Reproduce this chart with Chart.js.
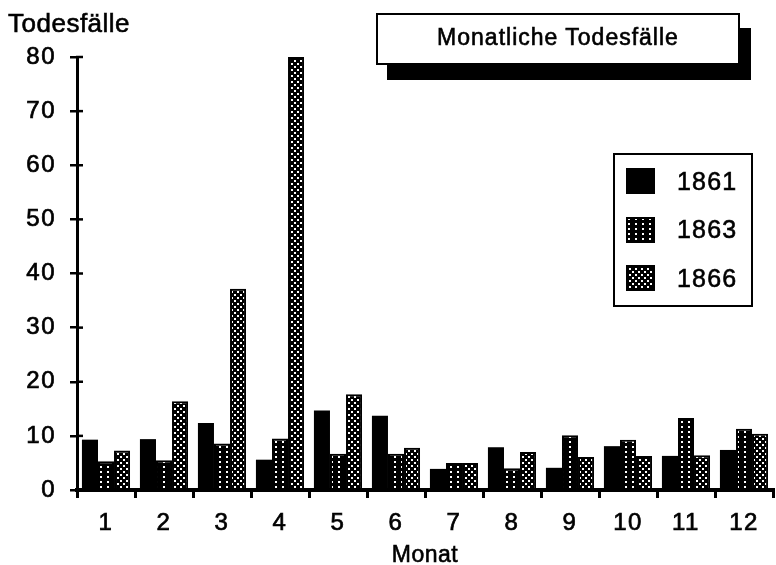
<!DOCTYPE html>
<html>
<head>
<meta charset="utf-8">
<script src="https://cdn.jsdelivr.net/npm/chart.js@4.4.1/dist/chart.umd.min.js"></script>
<style>
  body { margin: 0; background: #fff; font-family: 'Liberation Sans', Arial, sans-serif; color: #000; }
  #wrap { position: relative; width: 776px; height: 565px; }
  .thick { -webkit-text-stroke: 0.6px #000; }
  #yTitle { position: absolute; left: 8px; top: 10px; font-size: 26px; line-height: 1; letter-spacing: 0.5px; }
  #xTitle { position: absolute; left: 325px; width: 200px; top: 543px; text-align: center; font-size: 23px; line-height: 1; letter-spacing: 0.5px; }
  #titleBox {
    position: absolute; left: 376px; top: 13px; width: 360px; height: 44px;
    border: 2px solid #000; background: #fff; box-shadow: 11px 15px 0 #000;
    display: flex; align-items: center; justify-content: center;
    font-size: 23px; letter-spacing: 1px; padding-bottom: 4px; box-sizing: content-box;
  }
  #legend {
    position: absolute; left: 613px; top: 153px; width: 136px; height: 150px;
    border: 2px solid #000; background: #fff;
  }
  .row { position: absolute; left: 11px; height: 26px; display: flex; align-items: center; }
  .row canvas { width: 29px; height: 26px; display: block; }
  .row span { margin-left: 22px; font-size: 25px; letter-spacing: 1.2px; }
</style>
</head>
<body>
<div id="wrap">
  <canvas id="chart" width="776" height="565"></canvas>
  <div id="yTitle" class="thick">Todesfälle</div>
  <div id="xTitle" class="thick">Monat</div>
  <div id="titleBox" class="thick">Monatliche Todesfälle</div>
  <div id="legend" class="thick"></div>
</div>
<script>
// Monat 1..12
const months = ['1', '2', '3', '4', '5', '6', '7', '8', '9', '10', '11', '12'];
const years = ['1861', '1863', '1866'];

// Todesfälle je Monat
const deaths1861 = [9.3, 9.4, 12.4, 5.6, 14.7, 13.7, 3.9, 7.9, 4.1, 8.1, 6.3, 7.4];
const deaths1863 = [5.3, 5.5, 8.6, 9.5, 6.7, 6.7, 5.0, 4.0, 10.1, 9.3, 13.3, 11.3];
const deaths1866 = [7.3, 16.4, 37.2, 80, 17.7, 7.8, 5.0, 7.0, 6.1, 6.3, 6.4, 10.4];

const yTicks = [0, 10, 20, 30, 40, 50, 60, 70, 80];

const FONT = "'Liberation Sans', Arial, sans-serif";

// fill patterns: solid, dotted columns, dense checker
function makePattern(kind) {
  if (kind === 'solid') return '#000';
  const c = document.createElement('canvas');
  const w = kind === 'dots' ? 7 : 6;
  const h = kind === 'dots' ? 5 : 6;
  c.width = w; c.height = h;
  const g = c.getContext('2d');
  g.fillStyle = '#000';
  g.fillRect(0, 0, w, h);
  g.fillStyle = '#fff';
  if (kind === 'dots') {
    g.fillRect(2, 1, 2, 2);
  } else {
    g.fillRect(0, 0, 2, 2);
    g.fillRect(3, 3, 2, 2);
  }
  const ctx = document.getElementById('chart').getContext('2d');
  return ctx.createPattern(c, 'repeat');
}

const kinds = ['solid', 'dots', 'check'];
const fills = kinds.map(makePattern);

// legend built as html, swatches painted with the same patterns
const legendEl = document.getElementById('legend');
years.forEach((yr, i) => {
  const row = document.createElement('div');
  row.className = 'row';
  row.style.top = (13 + i * 48.5) + 'px';
  const sw = document.createElement('canvas');
  sw.width = 29; sw.height = 26;
  const sctx = sw.getContext('2d');
  sctx.fillStyle = fills[i];
  sctx.fillRect(0, 0, 29, 26);
  sctx.strokeStyle = '#000';
  sctx.lineWidth = 2;
  sctx.strokeRect(1, 1, 27, 24);
  const lbl = document.createElement('span');
  lbl.textContent = yr;
  row.appendChild(sw);
  row.appendChild(lbl);
  legendEl.appendChild(row);
});

// ticks that cross the y axis (inner half)
const crossTicks = {
  id: 'crossTicks',
  beforeDraw(chart) {
    chart.ctx.letterSpacing = '1.5px';
  },
  afterDraw(chart) {
    const y = chart.scales.y;
    const ctx = chart.ctx;
    ctx.save();
    ctx.strokeStyle = '#000';
    ctx.lineWidth = 2.5;
    y.ticks.forEach(t => {
      const py = y.getPixelForValue(t.value);
      ctx.beginPath();
      ctx.moveTo(y.right - 1, py);
      ctx.lineTo(y.right + 6, py);
      ctx.stroke();
    });
    ctx.restore();
  }
};

new Chart(document.getElementById('chart'), {
  type: 'bar',
  data: {
    labels: months,
    datasets: [
      { label: years[0], data: deaths1861, backgroundColor: fills[0], borderWidth: 0 },
      { label: years[1], data: deaths1863, backgroundColor: fills[1] },
      { label: years[2], data: deaths1866, backgroundColor: fills[2] }
    ]
  },
  options: {
    responsive: false,
    animation: false,
    layout: { padding: { top: 57, right: 3, left: 0, bottom: 0 } },
    datasets: {
      bar: {
        borderColor: '#000',
        borderWidth: 2,
        categoryPercentage: 0.83,
        barPercentage: 1
      }
    },
    plugins: {
      legend: { display: false },
      title: { display: false },
      tooltip: { enabled: false }
    },
    scales: {
      x: {
        afterFit(scale) { scale.height = 75; },
        grid: { drawOnChartArea: false, drawTicks: true, tickLength: 8, lineWidth: 3, color: '#000', offset: true },
        border: { display: true, width: 4, color: '#000' },
        ticks: { color: '#000', padding: 11, textStrokeColor: '#000', textStrokeWidth: 0.7, font: { family: FONT, size: 24 } }
      },
      y: {
        min: yTicks[0],
        max: yTicks[yTicks.length - 1],
        afterFit(scale) { scale.width = 77; },
        grid: { drawOnChartArea: false, drawTicks: true, tickLength: 7, lineWidth: 2.5, color: '#000' },
        border: { display: true, width: 3, color: '#000' },
        ticks: { stepSize: yTicks[1] - yTicks[0], color: '#000', padding: 14, textStrokeColor: '#000', textStrokeWidth: 0.7, font: { family: FONT, size: 24 } }
      }
    }
  },
  plugins: [crossTicks]
});
</script>
</body>
</html>
